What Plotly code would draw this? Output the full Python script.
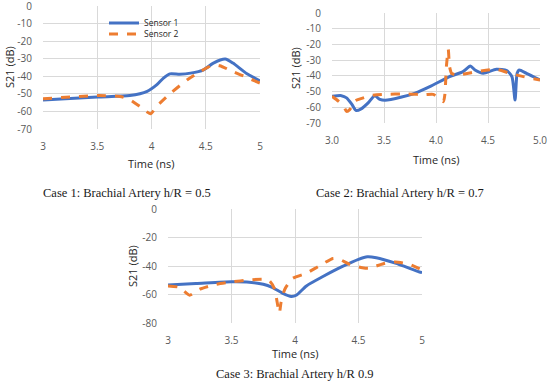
import plotly.graph_objects as go

# Case 1
c1_t1 = [3.0, 3.5, 3.8, 3.96, 4.05, 4.11, 4.17, 4.26, 4.36, 4.48, 4.57, 4.68, 4.75, 4.88, 5.0]
c1_s1 = [-53.5, -51.8, -51, -48.6, -44.8, -41, -38.6, -38.8, -38.2, -36.3, -32.5, -30.2, -32.5, -38.6, -42.6]
c1_t2 = [3.0, 3.5, 3.71, 3.8, 3.9, 3.99, 4.05, 4.17, 4.33, 4.45, 4.57, 4.63, 4.75, 4.88, 5.0]
c1_s2 = [-52.8, -51, -51.5, -53.3, -57.5, -61.3, -57, -50, -42, -37.3, -33.5, -34, -37.3, -40.7, -43.9]

# Case 2
c2_t1 = [3.0, 3.09, 3.14, 3.19, 3.23, 3.28, 3.35, 3.41, 3.46, 3.51, 3.67, 3.8, 3.94, 4.13, 4.26, 4.33,
         4.375, 4.455, 4.58, 4.68, 4.73, 4.76, 4.78, 4.80, 4.87, 5.0]
c2_s1 = [-53, -52.6, -54, -58, -62, -61, -57, -52.6, -55, -55.6, -53.5, -51, -46.9, -40.5, -37.3, -33.7,
         -36.3, -38.4, -35.8, -36.7, -40.5, -55.4, -38.4, -36.3, -38.4, -42.6]
c2_t2 = [3.0, 3.06, 3.11, 3.14, 3.17, 3.22, 3.3, 3.38, 3.48, 3.73, 3.89, 3.974, 4.07, 4.085, 4.1, 4.118,
         4.13, 4.15, 4.2, 4.39, 4.58, 4.71, 4.84, 5.0]
c2_s2 = [-53, -56, -59, -62.6, -61.5, -56, -54, -52.4, -51.8, -51.5, -52, -51.8, -56.4, -52, -34, -23.1,
         -34, -38.4, -39.5, -37.3, -35.8, -38.4, -40.5, -42.6]

# Case 3
c3_t1 = [3.0, 3.22, 3.5, 3.62, 3.75, 3.82, 3.9, 3.97, 4.01, 4.09, 4.22, 4.37, 4.5, 4.57, 4.64, 4.79, 4.98, 5.0]
c3_s1 = [-53.3, -52.3, -51, -51.2, -52.8, -55, -59, -61.4, -60.5, -54, -47.4, -40.5, -35.3, -33.5, -34.2, -38, -44.2, -44.6]
c3_t2 = [3.0, 3.09, 3.17, 3.25, 3.38, 3.5, 3.64, 3.75, 3.8, 3.84, 3.86, 3.877, 3.89, 3.92, 3.98, 4.09,
         4.19, 4.3, 4.35, 4.43, 4.53, 4.58, 4.71, 4.79, 4.9, 4.98, 5.0]
c3_s2 = [-54, -55, -60.5, -56.3, -52.8, -51.2, -49.8, -49.3, -50.5, -56.3, -65.6, -73, -65.6, -56.3, -48.8, -45.1,
         -40, -34.7, -35.3, -38.8, -41.2, -41.6, -38, -37.2, -38.8, -41.9, -42.6]

x_ticks = [3, 3.5, 4, 4.5, 5]
x_labels_1 = ["3", "3.5", "4", "4.5", "5"]
x_labels_2 = ["3.0", "3.5", "4.0", "4.5", "5.0"]
y_ticks_70 = [0, -10, -20, -30, -40, -50, -60, -70]
y_labels_70 = ["0", "-10", "-20", "-30", "-40", "-50", "-60", "-70"]
y_ticks_80 = [0, -20, -40, -60, -80]
y_labels_80 = ["0", "-20", "-40", "-60", "-80"]
captions = ["Case 1: Brachial Artery h/R = 0.5", "Case 2: Brachial Artery h/R = 0.7", "Case 3: Brachial Artery h/R 0.9"]
series_names = ["Sensor 1", "Sensor 2"]

BLUE = "#4472C4"
ORANGE = "#ED7D31"
W, H = 550, 384

def px_x(a, b):
    return [a / W, b / W]

def px_y(top, bottom):
    return [1 - bottom / H, 1 - top / H]

fig = go.Figure()

panels = [
    dict(t1=c1_t1, s1=c1_s1, t2=c1_t2, s2=c1_s2, xd=px_x(43, 260), yd=px_y(6, 129),
         yr=[-70, 0], yt=y_ticks_70, yl=y_labels_70, labels=x_labels_1, legend=True),
    dict(t1=c2_t1, s1=c2_s1, t2=c2_t2, s2=c2_s2, xd=px_x(332, 540), yd=px_y(13, 123),
         yr=[-70, 0], yt=y_ticks_70, yl=y_labels_70, labels=x_labels_2, legend=False),
    dict(t1=c3_t1, s1=c3_s1, t2=c3_t2, s2=c3_s2, xd=px_x(168, 422), yd=px_y(209, 323),
         yr=[-80, 0], yt=y_ticks_80, yl=y_labels_80, labels=x_labels_1, legend=False),
]

tickfont = dict(family="Open Sans, Liberation Sans, sans-serif", size=10, color="#595959")
titlefont = dict(family="Open Sans, Liberation Sans, sans-serif", size=11, color="#262626")

for i, p in enumerate(panels):
    suffix = "" if i == 0 else str(i + 1)
    xa = "x" + suffix
    ya = "y" + suffix
    fig.add_trace(go.Scatter(x=p["t1"], y=p["s1"], mode="lines", name=series_names[0],
                             line=dict(color=BLUE, width=3, shape="spline", smoothing=0.6),
                             xaxis=xa, yaxis=ya, showlegend=p["legend"], legend="legend",
                             hoverinfo="skip"))
    fig.add_trace(go.Scatter(x=p["t2"], y=p["s2"], mode="lines", name=series_names[1],
                             line=dict(color=ORANGE, width=3, dash="dash", shape="spline", smoothing=0.6),
                             xaxis=xa, yaxis=ya, showlegend=p["legend"], legend="legend2",
                             hoverinfo="skip"))
    fig.layout["xaxis" + suffix] = dict(domain=p["xd"], anchor=ya, range=[3, 5],
                                        tickvals=x_ticks, ticktext=p["labels"],
                                        showgrid=True, gridcolor="#D9D9D9", gridwidth=1,
                                        zeroline=False, showline=False, ticks="", automargin=False,
                                        ticklabeloverflow="allow",
                                        tickfont=tickfont, ticklabelstandoff=10, fixedrange=True)
    fig.layout["yaxis" + suffix] = dict(domain=p["yd"], anchor=xa, range=p["yr"],
                                        tickvals=p["yt"], ticktext=p["yl"],
                                        showgrid=True, gridcolor="#D9D9D9", gridwidth=1,
                                        zeroline=False, showline=False, ticks="", automargin=False,
                                        ticklabeloverflow="allow",
                                        tickfont=tickfont, ticklabelstandoff=10, fixedrange=True)

annotations = []
# x axis titles
for (cx, cy) in [(151, 163), (436, 159), (295, 353)]:
    annotations.append(dict(text="Time (ns)", x=cx / W, y=1 - cy / H, xref="paper", yref="paper",
                            showarrow=False, font=titlefont, xanchor="center", yanchor="middle"))
# y axis titles
for (cx, cy) in [(10, 67), (295, 68), (132, 266)]:
    annotations.append(dict(text="S21 (dB)", x=cx / W, y=1 - cy / H, xref="paper", yref="paper",
                            showarrow=False, font=titlefont, textangle=-90, xanchor="center", yanchor="middle"))
# captions
for cap, (cx, cy) in zip(captions, [(127, 193), (400, 193), (295, 374)]):
    annotations.append(dict(text=cap, x=cx / W, y=1 - cy / H, xref="paper", yref="paper",
                            showarrow=False, xanchor="center", yanchor="middle",
                            font=dict(family="Liberation Serif, DejaVu Serif, serif", size=12.5, color="#1a1a1a")))

legfont = dict(family="Open Sans, Liberation Sans, sans-serif", size=8.5, color="#262626")
fig.update_layout(
    width=W, height=H, margin=dict(l=0, r=0, t=0, b=0),
    paper_bgcolor="white", plot_bgcolor="white",
    annotations=annotations,
    hovermode=False,
    legend=dict(x=104 / W, y=1 - 23 / H, xanchor="left", yanchor="middle", bgcolor="rgba(0,0,0,0)",
                font=legfont, itemwidth=30),
    legend2=dict(x=104 / W, y=1 - 34 / H, xanchor="left", yanchor="middle", bgcolor="rgba(0,0,0,0)",
                 font=legfont, itemwidth=30),
    showlegend=True,
)

fig.write_html("out.html", config={"displayModeBar": False},
               post_script="document.body.style.margin='0';document.body.style.overflow='hidden';")
